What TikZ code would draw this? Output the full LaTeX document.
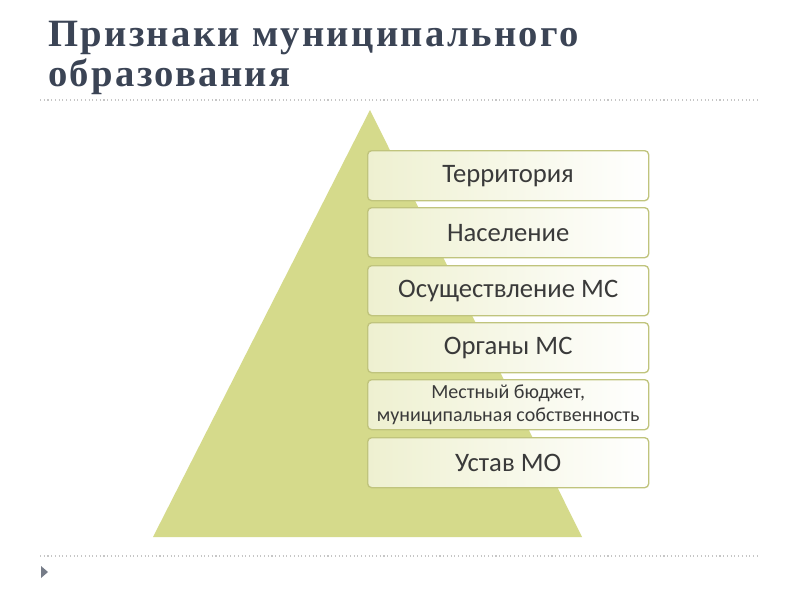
\documentclass[tikz,border=0pt]{standalone}
\usepackage{fontspec}
\setmainfont{Carlito}
\newfontfamily\titlefont[LetterSpace=6]{Liberation Serif}
\begin{document}
\begin{tikzpicture}[x=0.75pt,y=-0.75pt,
  lvl/.style={draw=tri!90!black, line width=1pt, rounded corners=3pt, left color=tri!40, right color=white, minimum width=281*0.75pt, minimum height=50*0.75pt, anchor=north west, align=center, text=txt, inner sep=1pt},
  sep/.style={draw=gray!45, dotted, line width=0.8pt}]
\definecolor{tri}{HTML}{D5DA8B}
\definecolor{txt}{HTML}{3A3A3A}
\definecolor{ttl}{HTML}{3B4455}
\fill[white] (0,0) rectangle (800,600);
\node[anchor=base west, text=ttl, font=\titlefont\bfseries\fontsize{29}{32}\selectfont, inner sep=0] (t1) at (48,46) {Признаки муниципального};
\node[anchor=base west, text=ttl, font=\titlefont\bfseries\fontsize{29}{32}\selectfont, inner sep=0] (t2) at (48,86) {образования};
\draw[sep] (40,100) -- (760,100);
\draw[sep] (40,556) -- (760,556);
\fill[ttl!70] (41,566) -- (48,572) -- (41,578) -- cycle;
\fill[tri] (370,110) -- (582,537) -- (153,537) -- cycle;
\node[lvl, font=\fontsize{20}{22}\selectfont] (a) at (367,150) {Территория};
\node[lvl, font=\fontsize{20}{22}\selectfont] (b) at (367,207) {Население};
\node[lvl, font=\fontsize{20}{22}\selectfont] (c) at (367,265) {Осуществление МС};
\node[lvl, font=\fontsize{20}{22}\selectfont] (d) at (367,322) {Органы МС};
\node[lvl, font=\fontsize{15}{17}\selectfont] (e) at (367,379) {Местный бюджет,\\муниципальная собственность};
\node[lvl, font=\fontsize{20}{22}\selectfont] (f) at (367,437) {Устав МО};
\end{tikzpicture}
\end{document}
